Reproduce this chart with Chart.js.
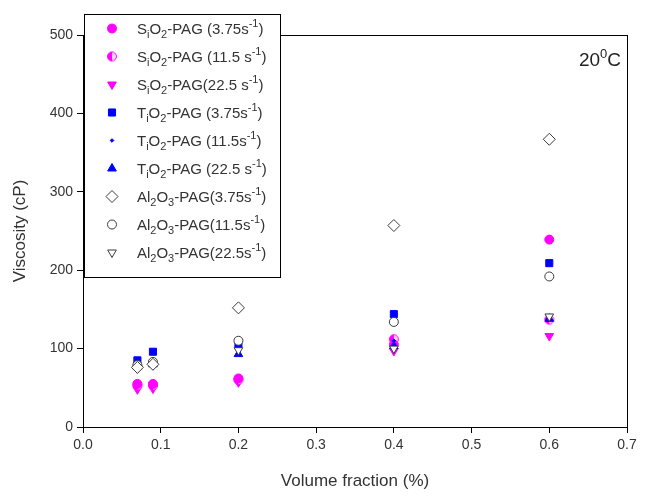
<!DOCTYPE html>
<html>
<head>
<meta charset="utf-8">
<script src="https://cdn.jsdelivr.net/npm/chart.js@4"></script>
<style>
  html, body { margin: 0; padding: 0; background: #fff; }
  #wrap { width: 646px; height: 496px; }
</style>
</head>
<body>
<div id="wrap"><canvas id="chart" width="646" height="496"></canvas></div>
<script>
// data
const volumeFraction = [0.07, 0.09, 0.2, 0.4, 0.6];
const sio2_375 = [55, 55, 62, 105, 239];
const sio2_115 = [53, 53, 60, 112, 137];
const sio2_225 = [48, 49, 57, 97, 116];
const tio2_375 = [85, 96, 105, 144, 209];
const tio2_115 = [80, 82, 100, 110, 140];
const tio2_225 = [77, 80, 93, 103, 138];
const al2o3_375 = [76, 80, 152, 257, 367];
const al2o3_115 = [79, 83, 110, 134, 192];
const al2o3_225 = [75, 79, 98, 100, 141];

const xTicks = [0.0, 0.1, 0.2, 0.3, 0.4, 0.5, 0.6, 0.7];
const yTicks = [0, 100, 200, 300, 400, 500];

// _x = subscript char, ^{..} = superscript
const seriesLabels = [
    "S_iO_2-PAG (3.75s^{-1})",
    "S_iO_2-PAG (11.5 s^{-1})",
    "S_iO_2-PAG(22.5 s^{-1})",
    "T_iO_2-PAG (3.75s^{-1})",
    "T_iO_2-PAG (11.5s^{-1})",
    "T_iO_2-PAG (22.5 s^{-1})",
    "Al_2O_3-PAG(3.75s^{-1})",
    "Al_2O_3-PAG(11.5s^{-1})",
    "Al_2O_3-PAG(22.5s^{-1})"
];
const tempLabel = "20^{0}C";
const xTitle = "Volume fraction (%)";
const yTitle = "Viscosity (cP)";

const MAGENTA = '#ff00ff';
const BLUE = '#0000ff';
const OPEN = '#3a3a3a';
const TEXT = '#333333';
const FAMILY = 'Arial, "Liberation Sans", sans-serif';

function halfCircle(color) {
    const c = document.createElement('canvas');
    c.width = 12; c.height = 12;
    const g = c.getContext('2d');
    g.beginPath(); g.arc(6, 6, 4.5, 0, Math.PI * 2); g.fillStyle = '#fbd2fb'; g.fill();
    g.beginPath(); g.arc(6, 6, 4.5, Math.PI / 2, Math.PI * 1.5); g.closePath();
    g.fillStyle = color; g.fill();
    g.beginPath(); g.arc(6, 6, 4.5, 0, Math.PI * 2);
    g.strokeStyle = color; g.lineWidth = 1; g.stroke();
    return c;
}

function plainText(s) {
    return s.replace(/_(.)/g, '$1').replace(/\^\{([^}]*)\}/g, '$1');
}

function parseRich(s) {
    const out = [];
    let i = 0, buf = '';
    while (i < s.length) {
        if (s[i] === '_') {
            if (buf) { out.push([buf, 'n']); buf = ''; }
            out.push([s[i + 1], 'sub']); i += 2;
        } else if (s[i] === '^' && s[i + 1] === '{') {
            if (buf) { out.push([buf, 'n']); buf = ''; }
            const end = s.indexOf('}', i);
            out.push([s.slice(i + 2, end), 'sup']); i = end + 1;
        } else { buf += s[i]; i++; }
    }
    if (buf) out.push([buf, 'n']);
    return out;
}

function drawRich(ctx, s, x, y, size, align) {
    const parts = parseRich(s);
    const small = Math.round(size * 0.7);
    let w = 0;
    parts.forEach(p => {
        ctx.font = (p[1] === 'n' ? size : small) + 'px ' + FAMILY;
        w += ctx.measureText(p[0]).width;
    });
    let cx = align === 'right' ? x - w : x;
    ctx.textBaseline = 'alphabetic';
    ctx.textAlign = 'left';
    parts.forEach(p => {
        ctx.font = (p[1] === 'n' ? size : small) + 'px ' + FAMILY;
        let dy = 0;
        if (p[1] === 'sub') dy = size * 0.3;
        if (p[1] === 'sup') dy = -size * 0.42;
        ctx.fillText(p[0], cx, y + dy);
        cx += ctx.measureText(p[0]).width;
    });
}

const markers = [
    { data: sio2_375, style: 'circle', r: 4.5, bg: MAGENTA, bc: MAGENTA, rot: 0, order: 3 },
    { data: sio2_115, style: halfCircle(MAGENTA), r: 5, bg: MAGENTA, bc: MAGENTA, rot: 0, order: 3 },
    { data: sio2_225, style: 'triangle', r: 5, bg: MAGENTA, bc: MAGENTA, rot: 180, order: 3 },
    { data: tio2_375, style: 'rect', r: 5, bg: BLUE, bc: BLUE, rot: 0, order: 2 },
    { data: tio2_115, style: 'rectRot', r: 1.8, bg: BLUE, bc: BLUE, rot: 0, order: 2 },
    { data: tio2_225, style: 'triangle', r: 5, bg: BLUE, bc: BLUE, rot: 0, order: 2 },
    { data: al2o3_375, style: 'rectRot', r: 6, bg: '#ffffff', bc: OPEN, rot: 0, order: 1 },
    { data: al2o3_115, style: 'circle', r: 4.5, bg: '#ffffff', bc: OPEN, rot: 0, order: 1 },
    { data: al2o3_225, style: 'triangle', r: 5, bg: '#ffffff', bc: OPEN, rot: 180, order: 1 }
];

const datasets = markers.map((m, i) => ({
    label: plainText(seriesLabels[i]),
    data: volumeFraction.map((x, j) => ({ x: x, y: m.data[j] })),
    pointStyle: m.style,
    pointRadius: m.r,
    pointRotation: m.rot,
    pointBackgroundColor: m.bg,
    pointBorderColor: m.bc,
    pointBorderWidth: 1,
    showLine: false,
    order: m.order
}));

const framePlugin = {
    id: 'frame',
    afterDatasetsDraw(chart) {
        const { ctx, chartArea: a } = chart;
        ctx.save();
        ctx.strokeStyle = '#000';
        ctx.lineWidth = 1;
        ctx.strokeRect(a.left + 0.5, a.top + 0.5, a.right - a.left, a.bottom - a.top);
        ctx.restore();
    }
};

const legendPlugin = {
    id: 'richLegend',
    afterDraw(chart) {
        const { ctx } = chart;
        const bx = 84, by = 14, bw = 196, bh = 263;
        ctx.save();
        ctx.fillStyle = '#fff';
        ctx.fillRect(bx, by, bw, bh);
        ctx.strokeStyle = '#000';
        ctx.lineWidth = 1;
        ctx.strokeRect(bx + 0.5, by + 0.5, bw, bh);
        markers.forEach((m, i) => {
            const y = 28.5 + i * 28;
            ctx.fillStyle = m.bg;
            ctx.strokeStyle = m.bc;
            ctx.lineWidth = 1;
            Chart.helpers.drawPoint(ctx, { pointStyle: m.style, radius: m.r, rotation: m.rot, borderWidth: 1 }, 112, y);
            ctx.fillStyle = TEXT;
            drawRich(ctx, seriesLabels[i], 137, y + 5, 15, 'left');
        });
        ctx.fillStyle = '#222';
        drawRich(ctx, tempLabel, 621, 66, 19, 'right');
        ctx.restore();
    }
};

new Chart(document.getElementById('chart').getContext('2d'), {
    type: 'scatter',
    data: { datasets: datasets },
    options: {
        responsive: false,
        animation: false,
        layout: { padding: { top: 35, right: 19, left: 0, bottom: 0 } },
        plugins: { legend: { display: false }, tooltip: { enabled: false } },
        scales: {
            x: {
                type: 'linear',
                min: 0, max: 0.7,
                afterBuildTicks: s => { s.ticks = xTicks.map(v => ({ value: v })); },
                afterFit: s => { s.height = 69; },
                grid: { drawOnChartArea: false, drawTicks: true, tickLength: 6, color: '#000' },
                border: { display: true, color: '#000', width: 1 },
                ticks: {
                    color: TEXT, padding: 4,
                    font: { family: FAMILY, size: 14 },
                    callback: v => v.toFixed(1)
                },
                title: {
                    display: true, text: xTitle, color: TEXT,
                    font: { family: FAMILY, size: 17 },
                    padding: { top: 6 }
                }
            },
            y: {
                type: 'linear',
                min: 0, max: 500,
                afterBuildTicks: s => { s.ticks = yTicks.map(v => ({ value: v })); },
                afterFit: s => { s.width = 83; },
                grid: { drawOnChartArea: false, drawTicks: true, tickLength: 6, color: '#000' },
                border: { display: true, color: '#000', width: 1 },
                ticks: {
                    color: TEXT, padding: 4,
                    font: { family: FAMILY, size: 14 }
                },
                title: {
                    display: true, text: yTitle, color: TEXT,
                    font: { family: FAMILY, size: 17 },
                    padding: { top: 10, bottom: 0 }
                }
            }
        }
    },
    plugins: [framePlugin, legendPlugin]
});
</script>
</body>
</html>
